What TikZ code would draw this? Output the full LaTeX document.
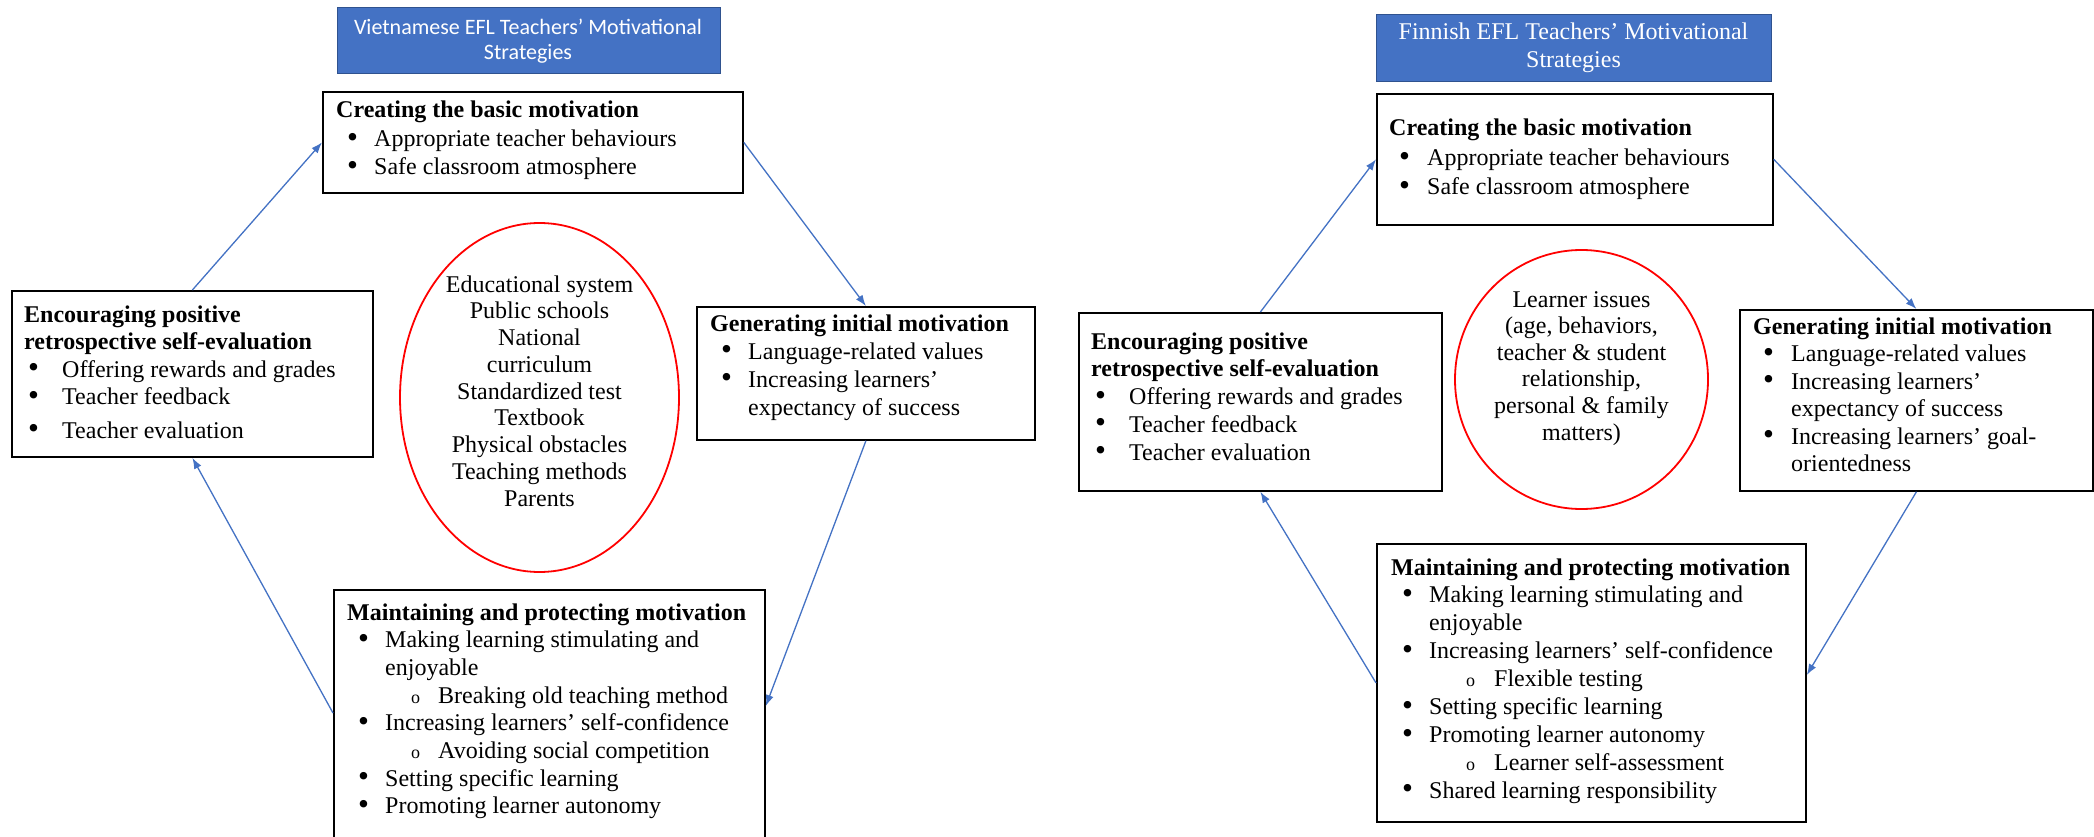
\documentclass[tikz,border=0pt]{standalone}
\usepackage{fontspec}
\setmainfont{Liberation Serif}
\newfontfamily\titlefont{Carlito}
\usetikzlibrary{calc,shapes.geometric,arrows.meta}
\definecolor{tblue}{HTML}{4472C4}
\definecolor{tborder}{HTML}{2F528F}
\definecolor{ered}{HTML}{FF0000}
\newcommand\hd[1]{\textbf{#1}}
\newcommand\bdot{\raisebox{-0.6pt}{\scalebox{1.3}{\textbullet}}}
\newcommand\bu[2][11pt]{\makebox[38pt][l]{\hspace*{#1}\bdot}#2}
\newcommand\cont[1]{\hspace*{38pt}#1}
\newcommand\sbu[3]{\makebox[#2][l]{\hspace*{#1}{\fontsize{18}{18}\selectfont o}}#3}
\newcommand\boxtext[2]{\parbox[t]{600pt}{\fontsize{24}{#1}\selectfont\raggedright #2}}
\tikzset{
  box/.style={draw=black, line width=1.8pt, anchor=north west, inner sep=0pt},
  ttl/.style={draw=tborder, line width=1.2pt, fill=tblue, text=white, anchor=north west,
    align=center, inner sep=0pt},
  txt/.style={anchor=base west, inner sep=0pt},
  ell/.style={ellipse, draw=ered, line width=1.8pt, inner sep=0pt},
  etxt/.style={anchor=base, inner sep=0pt},
  conn/.style={draw=tblue, line width=1.3pt, -{Latex[length=11pt,width=8pt]}}
}
\begin{document}
\begin{tikzpicture}[x=1pt,y=-1pt]
\useasboundingbox (0,0) rectangle (2094,837);
\clip (0,0) rectangle (2094,837);
\fill[white] (0,0) rectangle (2094,837);

% ---------- Left diagram ----------
\node[ttl, minimum width=383pt, minimum height=66pt] (lt) at (337,7) {};
\node[etxt, text=white] (ltt) at (528,35) {\parbox[t]{380pt}{\titlefont\fontsize{22}{24.5}\selectfont\centering
  Vietnamese EFL Teachers’ Motivational\\Strategies}};

\node[box, minimum width=420pt, minimum height=101pt] (lc) at (322,91) {};
\node[txt] (lct) at (336,118) {\boxtext{28.5}{\hd{Creating the basic motivation}\\
  \bu{Appropriate teacher behaviours}\\
  \bu{Safe classroom atmosphere}}};

\node[box, minimum width=361pt, minimum height=166pt] (le) at (11,290) {};
\node[txt] (let) at (24,322) {\boxtext{27.5}{\hd{Encouraging positive}\\
  \hd{retrospective self-evaluation}\\
  \bu[4pt]{Offering rewards and grades}\\
  \bu[4pt]{Teacher feedback}\\[6pt]
  \bu[4pt]{Teacher evaluation}}};

\node[box, minimum width=338pt, minimum height=133pt] (lg) at (696,306) {};
\node[txt] (lgt) at (710,331) {\boxtext{28}{\hd{Generating initial motivation}\\
  \bu{Language-related values}\\
  \bu{Increasing learners’}\\
  \cont{expectancy of success}}};

\node[ell, minimum width=279pt, minimum height=349pt] (lel) at (539.5,397.5) {};
\node[etxt] (lelt) at (539.5,292) {\parbox[t]{280pt}{\fontsize{24}{26.8}\selectfont\centering
  Educational system\\Public schools\\National\\curriculum\\Standardized test\\Textbook\\Physical obstacles\\Teaching methods\\Parents}};

\node[box, minimum width=431pt, minimum height=280pt] (lm) at (333,589) {};
\node[txt] (lmt) at (347,620) {\boxtext{27.7}{\hd{Maintaining and protecting motivation}\\
  \bu{Making learning stimulating and}\\
  \cont{enjoyable}\\
  \sbu{64pt}{91pt}{Breaking old teaching method}\\
  \bu{Increasing learners’ self-confidence}\\
  \sbu{64pt}{91pt}{Avoiding social competition}\\
  \bu{Setting specific learning}\\
  \bu{Promoting learner autonomy}}};

\draw[conn] (le.north) -- (lc.west);
\draw[conn] (lc.east) -- (lg.north);
\draw[conn] (lg.south) -- ($(lm.north east)+(0,117)$);
\draw[conn] ($(lm.north west)+(0,124)$) -- (le.south);

% ---------- Right diagram ----------
\node[ttl, minimum width=395pt, minimum height=67pt] (rt) at (1376,14) {};
\node[etxt, text=white] (rtt) at (1573.5,40) {\parbox[t]{390pt}{\fontsize{24}{28}\selectfont\centering
  Finnish EFL Teachers’ Motivational\\Strategies}};

\node[box, minimum width=396pt, minimum height=131pt] (rc) at (1376,93) {};
\node[txt] (rct) at (1389,136) {\boxtext{29.5}{\hd{Creating the basic motivation}\\
  \bu[10pt]{Appropriate teacher behaviours}\\
  \bu[10pt]{Safe classroom atmosphere}}};

\node[box, minimum width=363pt, minimum height=178pt] (re) at (1078,312) {};
\node[txt] (ret) at (1091,349) {\boxtext{27.75}{\hd{Encouraging positive}\\
  \hd{retrospective self-evaluation}\\
  \bu[4pt]{Offering rewards and grades}\\
  \bu[4pt]{Teacher feedback}\\
  \bu[4pt]{Teacher evaluation}}};

\node[ell, minimum width=253pt, minimum height=259pt] (rel) at (1581.5,379.5) {};
\node[etxt] (relt) at (1581.5,307) {\parbox[t]{240pt}{\fontsize{24}{26.6}\selectfont\centering
  Learner issues\\(age, behaviors,\\teacher \& student\\relationship,\\personal \& family\\matters)}};

\node[box, minimum width=353pt, minimum height=181pt] (rg) at (1739,309) {};
\node[txt] (rgt) at (1753,334) {\boxtext{27.6}{\hd{Generating initial motivation}\\
  \bu[10pt]{Language-related values}\\
  \bu[10pt]{Increasing learners’}\\
  \cont{expectancy of success}\\
  \bu[10pt]{Increasing learners’ goal-}\\
  \cont{orientedness}}};

\node[box, minimum width=429pt, minimum height=278pt] (rm) at (1376,543) {};
\node[txt] (rmt) at (1391,575) {\boxtext{27.9}{\hd{Maintaining and protecting motivation}\\
  \bu{Making learning stimulating and}\\
  \cont{enjoyable}\\
  \bu{Increasing learners’ self-confidence}\\
  \sbu{75pt}{103pt}{Flexible testing}\\
  \bu{Setting specific learning}\\
  \bu{Promoting learner autonomy}\\
  \sbu{75pt}{103pt}{Learner self-assessment}\\
  \bu{Shared learning responsibility}}};

\draw[conn] (re.north) -- (rc.west);
\draw[conn] (rc.east) -- (rg.north);
\draw[conn] (rg.south) -- ($(rm.north east)+(0,132)$);
\draw[conn] (rm.west) -- (re.south);
\end{tikzpicture}
\end{document}
